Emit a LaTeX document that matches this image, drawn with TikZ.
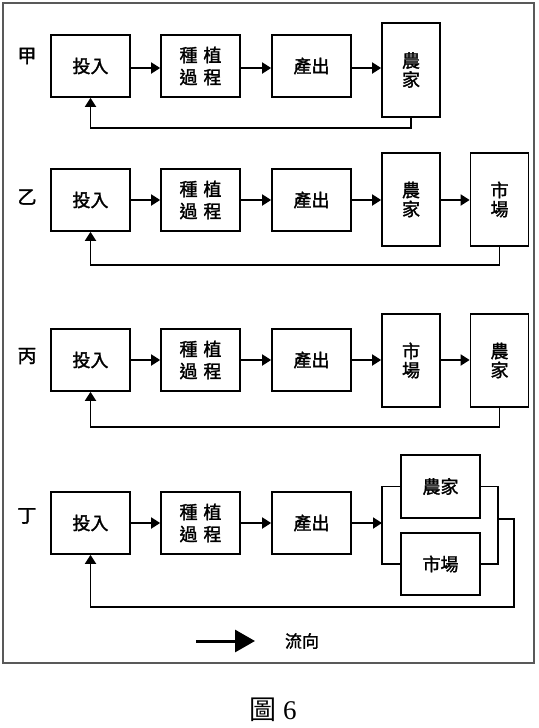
\documentclass[tikz,border=0pt]{standalone}
\usepackage{fontspec}
\setmainfont{Liberation Serif}
\newfontfamily\cjk{Noto Sans CJK TC}[FakeBold=1.6]
\newfontfamily\cjkplain{Noto Sans CJK TC}
\usetikzlibrary{arrows.meta,positioning,calc}
\tikzset{
  box/.style={draw, line width=1.7pt, inner sep=0pt, align=center, font=\cjk\fontsize{18}{21}\selectfont},
  sbox/.style={box, minimum width=79pt, minimum height=62pt},
  tbox/.style={box, minimum width=58pt, minimum height=94pt, font=\cjk\fontsize{18}{19}\selectfont},
  hbox/.style={box, minimum width=79pt, minimum height=63pt},
  flow/.style={line width=1.8pt, -{Triangle[length=9pt,width=11pt]}},
  wire/.style={line width=1.8pt},
  rowlab/.style={font=\cjk\fontsize{19}{20}\selectfont},
}
\newcommand{\zp}{種\hspace{6pt}植\\[1pt]過\hspace{6pt}程}
\begin{document}
\begin{tikzpicture}[x=1pt,y=-1pt]
\useasboundingbox (0,0) rectangle (538,728);
\draw[line width=1.2pt, draw=black!65] (3,3) rectangle (534,663);

% Row 甲
\node[rowlab] (l1) at (27,56) {甲};
\node[sbox] (a1) at (90.5,66) {投入};
\node[sbox] (b1) at (200.5,66) {\zp};
\node[sbox] (c1) at (311.5,66) {產出};
\node[tbox] (d1) at (411,70) {農\\家};
\draw[flow] (a1.east |- 0,68) -- (b1.west |- 0,68);
\draw[flow] (b1.east |- 0,68) -- (c1.west |- 0,68);
\draw[flow] (c1.east |- 0,68) -- (d1.west |- 0,68);
\coordinate (f1) at (d1.south |- 0,128);
\draw[flow] (d1.south) -- (f1) -- (a1.south |- f1) -- (a1.south);

% Row 乙
\node[rowlab] (l2) at (27,197) {乙};
\node[sbox] (a2) at (90.5,200) {投入};
\node[sbox] (b2) at (200.5,200) {\zp};
\node[sbox] (c2) at (311.5,200) {產出};
\node[tbox, minimum height=93pt] (d2) at (411,199.5) {農\\家};
\node[tbox, minimum height=93pt] (e2) at (499.5,199.5) {市\\場};
\draw[flow] (a2) -- (b2);
\draw[flow] (b2) -- (c2);
\draw[flow] (c2.east) -- (d2.west |- c2.east);
\draw[flow] (d2.east |- c2.east) -- (e2.west |- c2.east);
\coordinate (f2) at (e2.south |- 0,265);
\draw[flow] (e2.south) -- (f2) -- (a2.south |- f2) -- (a2.south);

% Row 丙
\node[rowlab] (l3) at (27,356) {丙};
\node[sbox] (a3) at (90.5,360) {投入};
\node[sbox] (b3) at (200.5,360) {\zp};
\node[sbox] (c3) at (311.5,360) {產出};
\node[tbox, minimum height=93pt] (d3) at (411,360.5) {市\\場};
\node[tbox, minimum height=93pt] (e3) at (499.5,360.5) {農\\家};
\draw[flow] (a3) -- (b3);
\draw[flow] (b3) -- (c3);
\draw[flow] (c3.east) -- (d3.west |- c3.east);
\draw[flow] (d3.east |- c3.east) -- (e3.west |- c3.east);
\coordinate (f3) at (e3.south |- 0,427);
\draw[flow] (e3.south) -- (f3) -- (a3.south |- f3) -- (a3.south);

% Row 丁
\node[rowlab] (l4) at (27,516) {丁};
\node[sbox] (a4) at (90.5,523) {投入};
\node[sbox] (b4) at (200.5,523) {\zp};
\node[sbox] (c4) at (311.5,523) {產出};
\node[hbox] (d4) at (440.5,486.5) {農家};
\node[hbox, minimum height=62pt] (e4) at (440.5,564) {市場};
\coordinate (lb) at (382,523);
\coordinate (rb) at (498,519);
\draw[flow] (a4) -- (b4);
\draw[flow] (b4) -- (c4);
\draw[flow] (c4.east) -- (lb);
\draw[wire] (d4.west) -- (lb |- d4.west) -- (lb |- e4.west) -- (e4.west);
\draw[wire] (d4.east) -- (rb |- d4.east) -- (rb |- e4.east) -- (e4.east);
\coordinate (f4) at (514,607);
\draw[flow] (rb) -- (514,519) -- (f4) -- (a4.south |- f4) -- (a4.south);

% Legend
\coordinate (la) at (196,641);
\coordinate (lz) at (255,641);
\draw[line width=3pt, -{Triangle[length=20pt,width=22pt]}] (la) -- (lz);
\node[font=\cjk\fontsize{17}{18}\selectfont] (lt) at (302,641) {流向};

% Caption
\node[font=\fontsize{27}{29}\selectfont] (cap) at (273,710) {{\cjkplain 圖} 6};
\end{tikzpicture}
\end{document}
